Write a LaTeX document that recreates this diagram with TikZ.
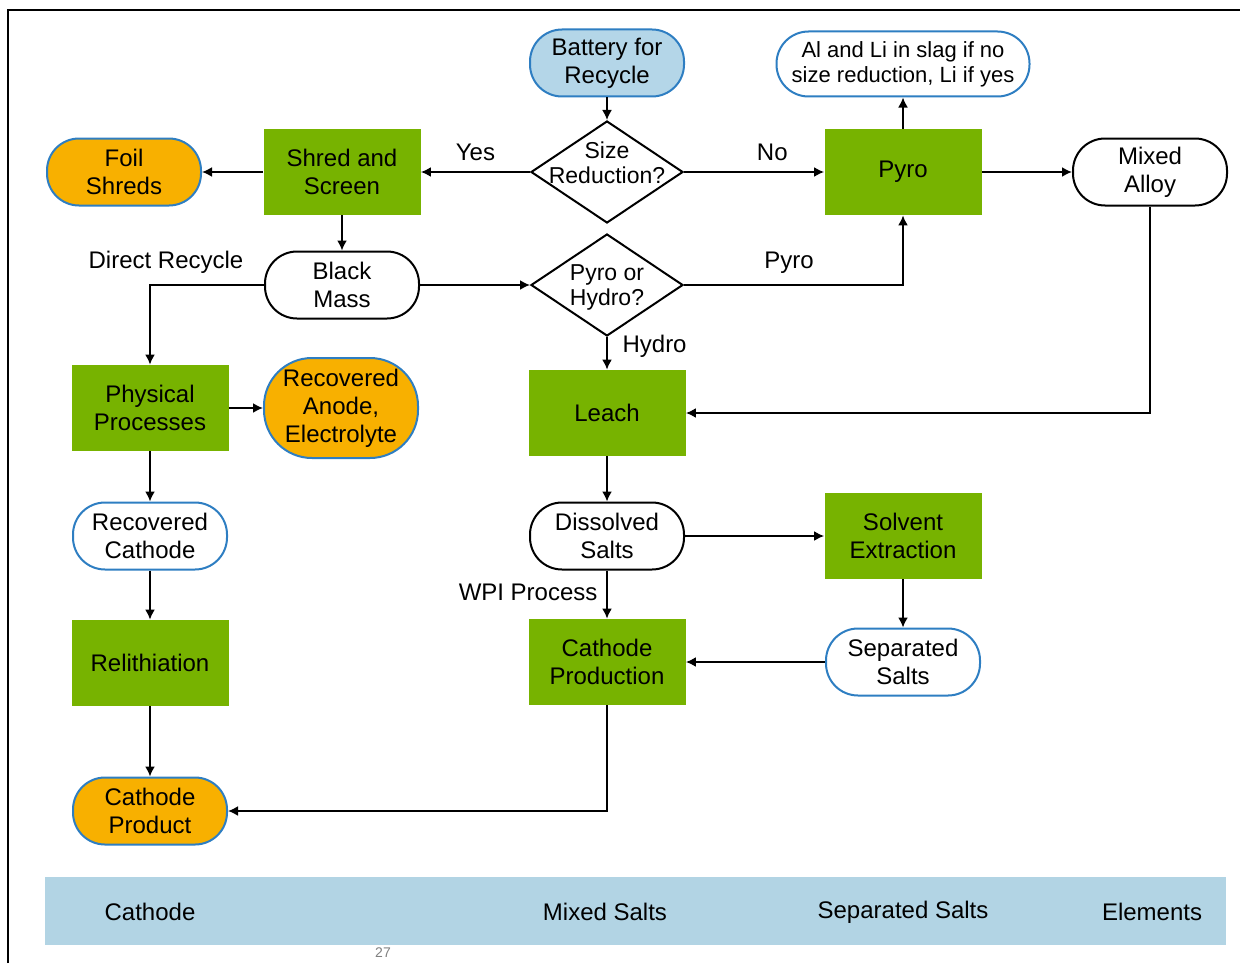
\documentclass[tikz,border=0pt]{standalone}
\usepackage{fontspec}
\setmainfont{Liberation Sans}
\usetikzlibrary{shapes.geometric}
\usetikzlibrary{arrows.meta}

\definecolor{procgreen}{RGB}{119,179,0}
\definecolor{prodorange}{RGB}{248,176,0}
\definecolor{edgeblue}{RGB}{46,126,194}
\definecolor{startblue}{RGB}{180,214,232}
\definecolor{barblue}{RGB}{178,212,228}

\begin{document}
\begin{tikzpicture}[
        x=0.5pt, y=-0.5pt,
        font=\fontsize{12}{14}\selectfont,
        process/.style={
            rectangle,
            fill=procgreen,
            minimum width=78.5pt,
            minimum height=43pt,
            align=center
        },
        stream/.style={
            rectangle,
            draw,
            line width=1pt,
            rounded corners=16pt,
            fill=white,
            minimum width=77pt,
            minimum height=33.5pt,
            align=center
        },
        result/.style={
            stream,
            draw=edgeblue
        },
        product/.style={
            stream,
            draw=edgeblue,
            fill=prodorange
        },
        decision/.style={
            diamond,
            draw,
            line width=1pt,
            minimum width=76pt,
            minimum height=51pt,
            inner sep=0pt
        },
        question/.style={
            align=center,
            font=\fontsize{11.5}{12.5}\selectfont
        },
        arrow/.style={
            -{Latex[length=5pt,width=5pt]},
            line width=0.9pt
        }
    ]

    \useasboundingbox (0,0) rectangle (1245,963);
    \draw[line width=1pt] (8,963) -- (8,10) -- (1240,10);

    % Nodes
    \node[stream, fill=startblue, draw=edgeblue] (battery) at (607,63) {Battery for\\Recycle};
    \node[decision, label={[question, yshift=4.5pt]center:Size\\Reduction?}] (size) at (607,172) {};
    \node[process] (shred) at (342,172) {Shred and\\Screen};
    \node[product] (foil) at (124,172) {Foil\\Shreds};
    \node[process] (pyro) at (903,172) {Pyro};
    \node[result, minimum width=126.5pt, minimum height=32.5pt,
          font=\fontsize{11}{12.5}\selectfont] (slag) at (903,64) {Al and Li in slag if no\\size reduction, Li if yes};
    \node[stream] (alloy) at (1150,172) {Mixed\\Alloy};
    \node[stream] (black) at (342,285) {Black\\Mass};
    \node[decision, label={[question, yshift=-1pt]center:Pyro or\\Hydro?}] (route) at (607,285) {};
    \node[process] (physical) at (150,408) {Physical\\Processes};
    \node[product, minimum height=50pt, rounded corners=24pt] (anode) at (341,408) {Recovered\\Anode,\\Electrolyte};
    \node[process] (leach) at (607,413) {Leach};
    \node[result] (reccathode) at (150,536) {Recovered\\Cathode};
    \node[stream] (dissolved) at (607,536) {Dissolved\\Salts};
    \node[process] (solvent) at (903,536) {Solvent\\Extraction};
    \node[process] (relith) at (150,663) {Relithiation};
    \node[process] (cathprod) at (607,662) {Cathode\\Production};
    \node[result] (separated) at (903,662) {Separated\\Salts};
    \node[product] (final) at (150,811) {Cathode\\Product};

    % Bottom band
    \fill[barblue] (45,877) rectangle (1226,945);
    \node (bandcathode) at (150,912) {Cathode};
    \node (bandmixed) at (605,912) {Mixed Salts};
    \node (bandseparated) at (903,912) {Separated Salts};
    \node (bandelements) at (1152,912) {Elements};
    \node[font=\fontsize{7}{8}\selectfont, text=gray] (page) at (383,953) {27};

    % Arrows
    \draw[arrow] (battery) -- (size);
    \draw[arrow] (size.west) -- node[above=2pt] {Yes} (shred.east);
    \draw[arrow] (size.east) -- node[above=2pt, pos=0.63] {No} (pyro.west);
    \draw[arrow] (shred) -- (foil);
    \draw[arrow] (shred) -- (black);
    \draw[arrow] (pyro) -- (slag);
    \draw[arrow] (pyro) -- (alloy);
    \draw[arrow] (black.east) -- (route.west);
    \draw[arrow] (route.east) -| node[above=2pt, pos=0.24] {Pyro} (pyro.south);
    \draw[arrow] (route.south) -- node[right=4pt, pos=0.3] {Hydro} (leach.north);
    \draw[arrow] (black.west) -| node[above=2pt, pos=0.43] {Direct Recycle} (physical.north);
    \draw[arrow] (alloy.south) |- (leach.east);
    \draw[arrow] (physical) -- (anode);
    \draw[arrow] (physical) -- (reccathode);
    \draw[arrow] (reccathode) -- (relith);
    \draw[arrow] (relith) -- (final);
    \draw[arrow] (leach) -- (dissolved);
    \draw[arrow] (dissolved) -- (solvent);
    \draw[arrow] (dissolved) -- node[left=1pt, pos=0.45] {WPI Process} (cathprod);
    \draw[arrow] (solvent) -- (separated);
    \draw[arrow] (separated) -- (cathprod);
    \draw[arrow] (cathprod.south) |- (final.east);

\end{tikzpicture}
\end{document}
